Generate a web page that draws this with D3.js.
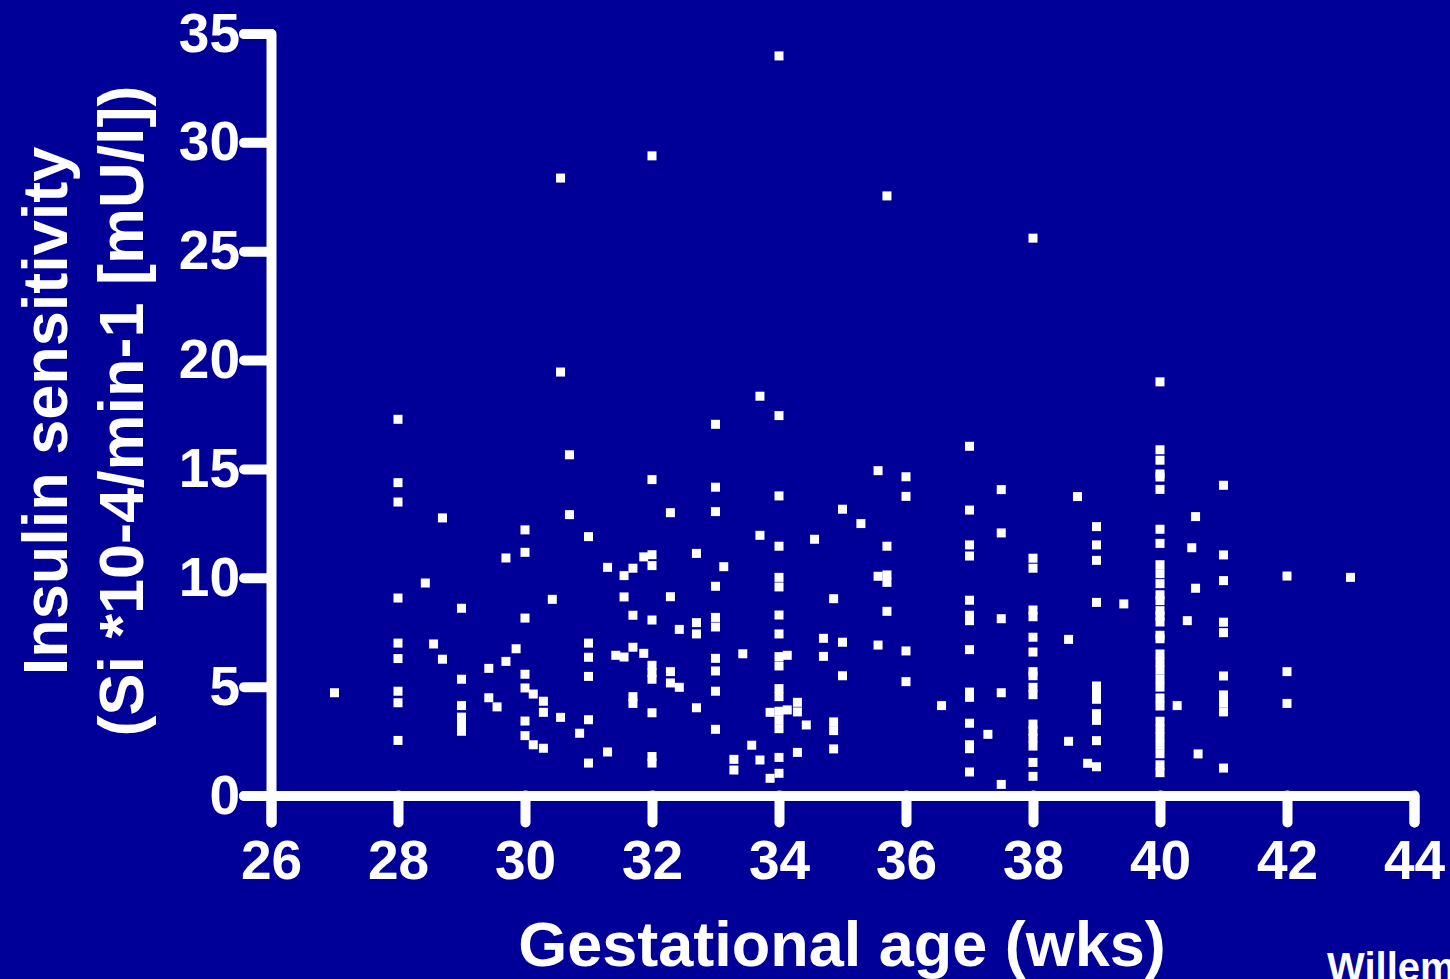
<!DOCTYPE html>
<html>
<head>
<meta charset="utf-8">
<script src="https://cdn.jsdelivr.net/npm/d3@7"></script>
<style>
  html, body { margin: 0; padding: 0; background: #000099; overflow: hidden; }
  svg { display: block; }
  text { font-family: "Liberation Sans", Arial, sans-serif; font-weight: bold; fill: #ffffff; }
</style>
</head>
<body>
<svg id="chart" width="1450" height="979"></svg>
<script>
// Gestational age at each measurement (weeks, with days as fractions)
const gestationalAge = [
  27, 28, 28.43, 28.56, 28.70, 29, 29.43, 29.56, 29.70, 29.86,
  30, 30.13, 30.29, 30.43, 30.56, 30.70, 30.86, 31, 31.30, 31.43,
  31.56, 31.70, 31.87, 32, 32.29, 32.43, 32.70, 33, 33.13, 33.29,
  33.43, 33.57, 33.70, 33.86, 34, 34.13, 34.29, 34.43, 34.56, 34.70,
  34.86, 35, 35.29, 35.56, 35.70, 36, 36.56, 37, 37.29, 37.5,
  38, 38.56, 38.70, 38.86, 39, 39.43, 40, 40.27, 40.43, 40.50,
  40.56, 40.60, 41, 42, 43
];

// Insulin sensitivity (Si *10-4/min-1 [mU/l]) observed at each gestational age above
const insulinSensitivity = [
  [4.72],
  [17.28, 14.37, 13.48, 9.07, 7.00, 6.29, 4.79, 4.26, 2.53],
  [9.76],
  [6.96],
  [12.75, 6.26],
  [8.60, 5.34, 4.13, 3.60, 3.25, 2.95],
  [5.84, 4.49],
  [4.07],
  [10.91, 6.16],
  [6.74],
  [12.20, 11.17, 8.15, 5.57, 4.94, 3.42, 2.75],
  [4.66, 2.33],
  [4.33, 3.82, 2.17],
  [9.01],
  [28.36, 19.45, 3.59],
  [15.65, 12.90],
  [2.86],
  [11.89, 7.00, 6.35, 5.47, 3.48, 1.49],
  [10.48, 2.00],
  [6.44],
  [10.10, 9.12, 6.36],
  [10.44, 8.28, 6.81, 4.54, 4.23],
  [10.96, 6.53],
  [29.38, 14.51, 11.06, 10.56, 8.06, 5.98, 5.64, 5.34, 3.80, 1.79, 1.49],
  [12.99, 9.13, 5.69, 5.17],
  [7.63, 4.97],
  [11.12, 7.94, 7.42, 4.03],
  [17.05, 14.16, 13.04, 9.61, 8.18, 7.74, 6.30, 5.72, 4.79, 3.04],
  [10.51],
  [1.66, 1.17],
  [6.51],
  [2.31],
  [18.34, 11.95, 1.63],
  [3.82, 0.79],
  [33.97, 17.45, 13.76, 11.45, 10.02, 9.58, 8.29, 7.42, 6.38, 5.95, 4.91, 4.54, 3.87, 3.47, 3.07, 1.75, 1.02],
  [6.44, 3.93],
  [4.28, 3.84, 1.98],
  [3.24],
  [11.77],
  [7.22, 6.39],
  [9.04, 3.38, 2.98, 2.14],
  [13.15, 7.04, 5.50],
  [12.49],
  [14.92, 10.07, 6.91],
  [27.54, 11.45, 10.13, 9.79, 8.46],
  [14.64, 13.74, 6.64, 5.23],
  [4.13],
  [16.04, 13.11, 11.51, 11.00, 8.97, 8.28, 8.03, 6.70, 4.75, 4.51, 3.32, 2.33, 2.15, 1.08],
  [2.81],
  [14.05, 12.06, 8.12, 4.72, 0.51],
  [25.60, 10.90, 10.44, 8.52, 8.21, 7.27, 6.59, 5.69, 5.50, 4.97, 4.63, 3.28, 2.96, 2.64, 2.27, 1.52, 0.88],
  [7.17, 2.49],
  [13.73],
  [1.48],
  [12.35, 11.51, 10.80, 8.87, 5.03, 4.71, 4.42, 3.76, 3.45, 2.52, 1.32],
  [8.80],
  [19.00, 15.88, 15.40, 14.77, 14.63, 14.06, 12.23, 11.58, 10.60, 10.19, 9.73, 9.22, 8.95, 8.49, 8.25, 7.97,
   7.36, 7.20, 6.50, 6.13, 5.76, 5.35, 4.98, 4.48, 4.11, 3.41, 3.05, 2.69, 2.32, 1.92, 1.41, 1.05],
  [4.13],
  [8.03],
  [11.38],
  [12.81, 9.52],
  [1.91],
  [14.25, 11.05, 9.87, 7.96, 7.48, 5.49, 4.62, 4.25, 3.84, 1.26],
  [10.08, 5.69, 4.23],
  [10.02]
];

// Axis ticks
const xTicks = [26, 28, 30, 32, 34, 36, 38, 40, 42, 44];
const yTicks = [0, 5, 10, 15, 20, 25, 30, 35];

const xTitle = "Gestational age (wks)";
const yTitleLines = ["Insulin sensitivity", "(Si *10-4/min-1 [mU/l])"];
const source = "Willemsen et al.";

const svg = d3.select("#chart");

const x = d3.scaleLinear().domain([26, 44]).range([271, 1414]);
const y = d3.scaleLinear().domain([0, 35]).range([795.5, 33.5]);

// Flatten into points
const points = [];
gestationalAge.forEach((ga, i) => {
  insulinSensitivity[i].forEach(v => points.push({ ga, si: v }));
});

const tickLen = 27;
const axisStyle = g => {
  g.selectAll("path.domain, .tick line")
    .attr("stroke", "#ffffff")
    .attr("stroke-width", 10)
    .attr("stroke-linecap", "round")
    .attr("stroke-linejoin", "round")
    .attr("fill", "none");
  g.selectAll(".tick text")
    .attr("fill", "#ffffff")
    .style("font-family", "'Liberation Sans', Arial, sans-serif")
    .style("font-weight", "bold")
    .style("font-size", "55px");
};

// Y axis
svg.append("g")
  .attr("transform", `translate(${x(26)},0)`)
  .call(d3.axisLeft(y).tickValues(yTicks).tickSize(tickLen).tickSizeOuter(tickLen).tickPadding(4))
  .call(axisStyle)
  .call(g => g.attr("font-size", null).attr("font-family", null));

// X axis
svg.append("g")
  .attr("transform", `translate(0,${y(0)})`)
  .call(d3.axisBottom(x).tickValues(xTicks).tickSize(tickLen).tickSizeOuter(tickLen).tickPadding(17))
  .call(axisStyle)
  .call(g => g.attr("font-size", null).attr("font-family", null));

// Data squares
const sq = 9;
svg.append("g")
  .selectAll("rect")
  .data(points)
  .join("rect")
  .attr("x", d => x(d.ga) - sq / 2)
  .attr("y", d => y(d.si) - sq / 2)
  .attr("width", sq)
  .attr("height", sq)
  .attr("fill", "#ffffff");

// Axis titles
svg.append("text")
  .attr("x", 842)
  .attr("y", 966)
  .attr("text-anchor", "middle")
  .style("font-size", "63px")
  .text(xTitle);

const yTitle = svg.append("text")
  .attr("transform", "translate(0,411) rotate(-90)")
  .attr("text-anchor", "middle")
  .style("font-size", "63px");
yTitle.append("tspan").attr("x", 0).attr("y", 67).text(yTitleLines[0]);
yTitle.append("tspan").attr("x", 0).attr("y", 143).text(yTitleLines[1]);

// Source note
svg.append("text")
  .attr("x", 1327)
  .attr("y", 981)
  .style("font-size", "40px")
  .text(source);
</script>
</body>
</html>
